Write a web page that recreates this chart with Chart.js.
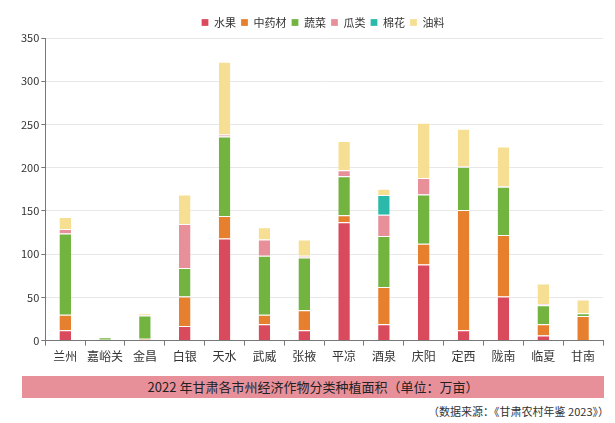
<!doctype html>
<html lang="zh">
<head>
<meta charset="utf-8">
<title>2022年甘肃各市州经济作物分类种植面积</title>
<script src="https://cdn.jsdelivr.net/npm/chart.js"></script>
<style>
  body { margin: 0; background: #fff; font-family: "Noto Sans CJK SC", "Noto Sans", sans-serif; }
  #wrap { position: relative; width: 615px; height: 423px; }
  #box { position: absolute; left: 0; top: 0; width: 615px; height: 368px; }
  #banner {
    position: absolute; left: 22px; top: 376px; width: 582px; height: 22px;
    background: #e8909a; color: #222; font-size: 13px; line-height: 22px; text-align: center;
  }
  #source {
    position: absolute; right: 6px; top: 403px; font-size: 11px; color: #333;
  }
</style>
</head>
<body>
<div id="wrap">
  <div id="box"><canvas id="chart"></canvas></div>
  <div id="banner">2022 年甘肃各市州经济作物分类种植面积（单位：万亩）</div>
  <div id="source">（数据来源：《甘肃农村年鉴 2023》）</div>
</div>
<script>
  // 市州
  const cities = ["兰州", "嘉峪关", "金昌", "白银", "天水", "武威", "张掖", "平凉", "酒泉", "庆阳", "定西", "陇南", "临夏", "甘南"];

  // 各类作物面积（万亩）
  const fruit    = [12, 0, 1,   17, 118, 19, 12, 137, 19,   88, 12,  51,  6,  0];
  const herbs    = [18, 1, 1,   34, 26,  11, 23, 8,   43,   24, 139, 71,  13, 28.5];
  const veggies  = [94, 3, 27,  33, 92,  68, 61, 45,  59,   57, 50,  56,  22, 3];
  const melons   = [5,  0, 0.5, 51, 2.5, 19, 2,  7,   24.5, 19, 1,   0.5, 1,  0];
  const cotton   = [0,  0, 0,   0,  0,   0,  0,  0,   23,   0,  0,   0,   0,  0];
  const oilseeds = [14, 0, 2,   34, 84,  14, 19, 34,  7,    64, 43,  46,  24, 16];

  const yTicks = [0, 50, 100, 150, 200, 250, 300, 350];

  const seriesNames = ["水果", "中药材", "蔬菜", "瓜类", "棉花", "油料"];
  const seriesData = [fruit, herbs, veggies, melons, cotton, oilseeds];
  const seriesColors = ["#d84a5c", "#e67f2e", "#73b441", "#e8909a", "#2bb9aa", "#f6df92"];

  const FONT = '"Noto Sans CJK SC", "Noto Sans", sans-serif';

  const datasets = seriesNames.map((name, i) => ({
    label: name,
    data: seriesData[i],
    backgroundColor: seriesColors[i],
    borderColor: "#ffffff",
    borderWidth: { top: 1, left: 0, right: 0, bottom: 0 },
    borderSkipped: false,
    categoryPercentage: 1,
    barPercentage: 0.29
  }));

  // 图例略向右，与绘图区居中
  const legendShift = {
    id: "legendShift",
    afterLayout(chart) {
      chart.legend.left += 12;
      chart.legend.right += 12;
    }
  };

  new Chart(document.getElementById("chart"), {
    type: "bar",
    data: { labels: cities, datasets: datasets },
    plugins: [legendShift],
    options: {
      responsive: true,
      maintainAspectRatio: false,
      animation: false,
      layout: { padding: { top: 12, right: 12, left: 19, bottom: 0 } },
      plugins: {
        legend: {
          position: "top",
          labels: {
            boxWidth: 7,
            boxHeight: 7,
            padding: 5,
            color: "#333",
            font: { family: FONT, size: 11 }
          }
        },
        tooltip: { enabled: false }
      },
      scales: {
        x: {
          stacked: true,
          grid: {
            display: true,
            drawOnChartArea: false,
            offset: true,
            tickLength: 5,
            tickColor: "#777",
            color: "#777"
          },
          border: { display: true, color: "#777", width: 1 },
          ticks: { color: "#333", font: { family: FONT, size: 12 }, padding: 4, maxRotation: 0 }
        },
        y: {
          stacked: true,
          min: 0,
          max: 350,
          afterBuildTicks: (axis) => { axis.ticks = yTicks.map(v => ({ value: v })); },
          grid: { color: "#e8e8e8", tickColor: "#777", tickLength: 4 },
          border: { display: true, color: "#777", width: 1 },
          ticks: { color: "#333", font: { family: FONT, size: 11 }, padding: 2 }
        }
      }
    }
  });
</script>
</body>
</html>
